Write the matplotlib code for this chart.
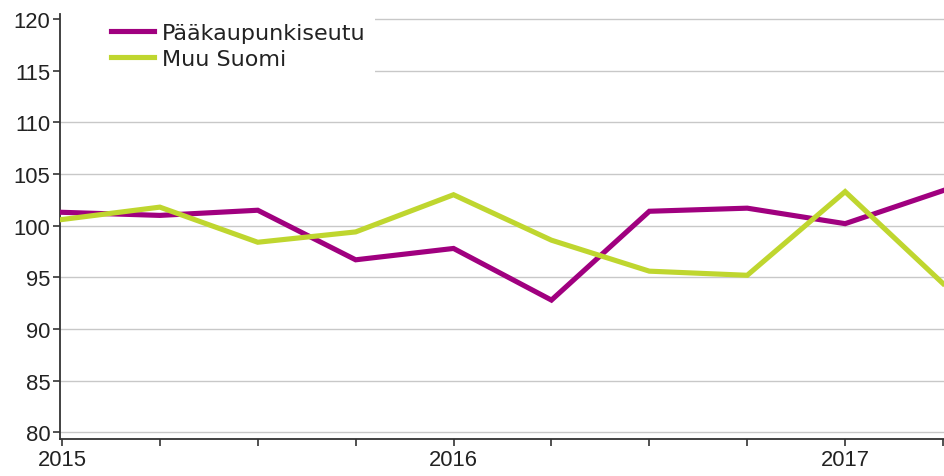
import matplotlib.pyplot as plt
from matplotlib.patches import Rectangle

plt.rcParams['font.family'] = ['Liberation Sans', 'DejaVu Sans']

# neljännekset 2015Q1 - 2017Q2
quarters = ['2015Q1', '2015Q2', '2015Q3', '2015Q4',
            '2016Q1', '2016Q2', '2016Q3', '2016Q4',
            '2017Q1', '2017Q2']
tick_labels = ['2015', '', '', '', '2016', '', '', '', '2017', '']
paakaupunkiseutu = [101.3, 101.0, 101.5, 96.7, 97.8, 92.8, 101.4, 101.7, 100.2, 103.4]
muu_suomi = [100.6, 101.8, 98.4, 99.4, 103.0, 98.6, 95.6, 95.2, 103.3, 94.4]

PURPLE = '#a0007f'
LIME = '#bfd62f'
TXT = '#222222'

fig = plt.figure(figsize=(9.44, 4.77), dpi=100)
ax = fig.add_axes([60 / 944, 1 - 440 / 477, 884 / 944, 425 / 477])

x = list(range(len(quarters)))
ax.plot(x, paakaupunkiseutu, color=PURPLE, linewidth=3.7, label='Pääkaupunkiseutu',
        zorder=3, solid_joinstyle='miter')
ax.plot(x, muu_suomi, color=LIME, linewidth=3.7, label='Muu Suomi',
        zorder=3, solid_joinstyle='miter')

ax.set_xlim(-0.02, 9.01)
ax.set_ylim(79.35, 120.5)
ax.set_yticks(range(80, 121, 5))
ax.set_xticks(x)
ax.set_xticklabels(tick_labels)

ax.set_axisbelow(True)
ax.grid(True, axis='y', color='#c8c8c8', linewidth=1.0, zorder=0.5)
for s in ['top', 'right']:
    ax.spines[s].set_visible(False)
for s in ['left', 'bottom']:
    ax.spines[s].set_color('#333333')
    ax.spines[s].set_linewidth(1.3)
ax.tick_params(axis='both', colors='#333333', labelcolor=TXT, labelsize=15.8,
               length=5, width=1.2, pad=2)

# valkoinen tausta selitteelle
ax.add_patch(Rectangle((0.0, 0.845), 0.356, 0.2, transform=ax.transAxes,
                       facecolor='white', edgecolor='none', zorder=1.5,
                       clip_on=False))

leg = ax.legend(loc='upper left', bbox_to_anchor=(0.0577, 0.98), frameon=False,
                prop={'family': 'DejaVu Sans', 'size': 16},
                handlelength=1.95, handletextpad=0.33,
                labelspacing=0.3, borderpad=0, borderaxespad=0)
for t in leg.get_texts():
    t.set_color(TXT)
leg.set_zorder(4)

fig.savefig('out.png', dpi=100)
